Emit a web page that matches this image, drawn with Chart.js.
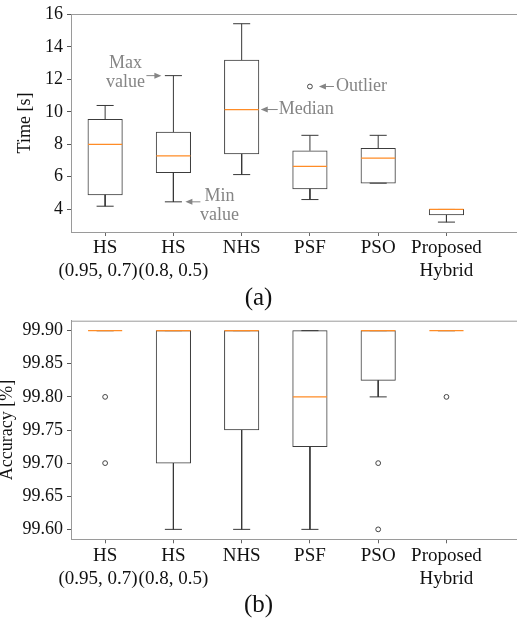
<!DOCTYPE html>
<html>
<head>
<meta charset="utf-8">
<script src="https://cdn.jsdelivr.net/npm/chart.js@4.4.1/dist/chart.umd.min.js"></script>
<style>
  html, body { margin:0; padding:0; background:#fff; }
  body { width:517px; height:623px; overflow:hidden; position:relative; font-family:'Liberation Serif'; }
  .wrap { position:absolute; left:0; }
  .cap { position:absolute; left:0; width:517px; text-align:center; font-family:'Liberation Serif'; font-size:25px; line-height:30px; color:#111; }
</style>
</head>
<body>
<div class="wrap" style="top:0;"><canvas id="c1" width="540" height="312" style="width:540px;height:312px;"></canvas></div>
<div class="wrap" style="top:312px;"><canvas id="c2" width="540" height="311" style="width:540px;height:311px;"></canvas></div>
<div class="cap" style="top:282px;">(a)</div>
<div class="cap" style="top:589px;">(b)</div>
<script>
// ---------- data ----------
const categories = [['HS','(0.95, 0.7)   '], ['HS','(0.8, 0.5)'], ['NHS'], ['PSF'], ['PSO'], ['Proposed','Hybrid']];

const timeMin = [4.18, 4.45, 6.13, 4.59, 5.60, 3.20];
const timeQ1  = [4.88, 6.25, 7.40, 5.25, 5.60, 3.64];
const timeMed = [7.99, 7.28, 10.14, 6.64, 7.15, 3.98];
const timeQ3  = [9.53, 8.75, 13.19, 7.60, 7.75, 3.98];
const timeMax = [10.39, 12.23, 15.43, 8.55, 8.55, 3.98];
const timeOutlierCat = [4];
const timeOutlierVal = [11.56];
const timeTicks = [4, 6, 8, 10, 12, 14, 16];

const accMin = [99.90, 99.60, 99.60, 99.60, 99.80, 99.90];
const accQ1  = [99.90, 99.70, 99.75, 99.725, 99.825, 99.90];
const accMed = [99.90, 99.90, 99.90, 99.80, 99.90, 99.90];
const accQ3  = [99.90, 99.90, 99.90, 99.90, 99.90, 99.90];
const accMax = [99.90, 99.90, 99.90, 99.90, 99.90, 99.90];
const accOutlierCat = [1, 1, 5, 5, 6];
const accOutlierVal = [99.80, 99.70, 99.70, 99.60, 99.80];
const accTicks = [99.60, 99.65, 99.70, 99.75, 99.80, 99.85, 99.90];

// ---------- style ----------
const FONT = "'Liberation Serif'";
const BOX_COLOR = '#3c3c3c';
const MED_COLOR = '#ff8c26';
const SPINE = '#9a9a9a';
const BOX_W = 0.5;   // in category units
const CAP_W = 0.25;

function buildDatasets(mn, q1, med, q3, mx, oc, ov) {
  const xs = categories.map((c, i) => i + 1);
  const boxes = xs.map((x, i) => ({x: x, y: [q1[i], q3[i]]}));
  const whiskers = [], caps = [], medians = [];
  xs.forEach((x, i) => {
    whiskers.push({x: x, y: q3[i]}, {x: x, y: mx[i]}, {x: x, y: null});
    whiskers.push({x: x, y: q1[i]}, {x: x, y: mn[i]}, {x: x, y: null});
    caps.push({x: x - CAP_W / 2, y: mx[i]}, {x: x + CAP_W / 2, y: mx[i]}, {x: x, y: null});
    caps.push({x: x - CAP_W / 2, y: mn[i]}, {x: x + CAP_W / 2, y: mn[i]}, {x: x, y: null});
    medians.push({x: x - BOX_W / 2, y: med[i]}, {x: x + BOX_W / 2, y: med[i]}, {x: x, y: null});
  });
  const outliers = oc.map((c, i) => ({x: c, y: ov[i]}));
  const lineCommon = {type: 'line', pointRadius: 0, borderWidth: 1, spanGaps: false, tension: 0, fill: false};
  return [
    {type: 'bar', data: boxes, backgroundColor: '#ffffff', borderColor: BOX_COLOR, borderWidth: 1,
     borderSkipped: false, barThickness: 34.5, grouped: false, order: 5},
    Object.assign({data: whiskers, borderColor: '#383838', order: 4}, lineCommon),
    Object.assign({data: caps, borderColor: '#383838', order: 3}, lineCommon),
    {type: 'scatter', data: outliers, pointRadius: 2.4, pointBorderWidth: 1, pointBackgroundColor: '#ffffff',
     pointBorderColor: '#444444', order: 2},
    Object.assign({data: medians, borderColor: MED_COLOR, order: 1}, lineCommon, {borderWidth: 1.3})
  ];
}

const framePlugin = {
  id: 'frame',
  afterDraw(chart) {
    const {ctx, chartArea} = chart;
    ctx.save();
    ctx.strokeStyle = SPINE;
    ctx.lineWidth = 1;
    ctx.beginPath();
    ctx.moveTo(chartArea.left, chartArea.top + 0.5);
    ctx.lineTo(chartArea.right, chartArea.top + 0.5);
    ctx.stroke();
    ctx.restore();
  }
};

function makeOptions(yMin, yMax, yTicks, yFmt, yTitle, titlePad, padTop, xHeight, tickPad) {
  return {
    responsive: false,
    animation: false,
    events: [],
    layout: {padding: {top: padTop, left: 0, right: 0, bottom: 0}},
    plugins: {legend: {display: false}, tooltip: {enabled: false}},
    scales: {
      x: {
        type: 'linear', min: 0.5, max: 0.5 + (540 - 71) / 69, offset: false,
        afterBuildTicks(s) { s.ticks = categories.map((c, i) => ({value: i + 1})); },
        afterFit(s) { s.height = xHeight; s.paddingLeft = 0; s.paddingRight = 0; },
        ticks: {
          autoSkip: false, maxRotation: 0, padding: tickPad, color: '#111',
          font: {family: FONT, size: 19, lineHeight: 1.18},
          callback(v) { return categories[Math.round(v) - 1] || ''; }
        },
        grid: {display: true, offset: false, drawOnChartArea: false, drawTicks: true, tickLength: 4, color: '#666', lineWidth: 1},
        border: {display: true, color: SPINE, width: 1}
      },
      y: {
        type: 'linear', min: yMin, max: yMax,
        afterBuildTicks(s) { s.ticks = yTicks.map(v => ({value: v})); },
        afterFit(s) { s.width = 71; s.paddingTop = 0; s.paddingBottom = 0; },
        ticks: {
          padding: 4, color: '#111',
          font: {family: FONT, size: 18, lineHeight: 1.2},
          callback(v) { return yFmt(v); }
        },
        title: {display: true, text: yTitle, color: '#111', font: {family: FONT, size: 18, lineHeight: 1}, padding: {top: titlePad, bottom: 0}},
        grid: {display: true, drawOnChartArea: false, drawTicks: true, tickLength: 4, color: '#555', lineWidth: 1},
        border: {display: true, color: SPINE, width: 1}
      }
    }
  };
}

const annotPlugin = {
  id: 'annot',
  afterDraw(chart) {
    const {ctx} = chart;
    const xs = chart.scales.x, ys = chart.scales.y;
    const grey = '#858585';
    function arrow(x0, y0, x1, y1) {
      ctx.save();
      ctx.strokeStyle = grey; ctx.fillStyle = grey; ctx.lineWidth = 1;
      const dir = Math.sign(x1 - x0);
      ctx.beginPath(); ctx.moveTo(x0, y0); ctx.lineTo(x1 - dir * 5, y1); ctx.stroke();
      ctx.beginPath(); ctx.moveTo(x1, y1); ctx.lineTo(x1 - dir * 7, y1 - 3); ctx.lineTo(x1 - dir * 7, y1 + 3); ctx.closePath(); ctx.fill();
      ctx.restore();
    }
    function text(t, x, y, align) {
      ctx.save();
      ctx.fillStyle = grey;
      ctx.font = "18px " + FONT;
      ctx.textAlign = align; ctx.textBaseline = 'middle';
      ctx.fillText(t, x, y);
      ctx.restore();
    }
    // Max value
    let px = xs.getPixelForValue(2), py = ys.getPixelForValue(timeMax[1]);
    arrow(px - 27, py, px - 12, py);
    text('Max', px - 48, py - 12, 'center');
    text('value', px - 48, py + 7, 'center');
    // Min value
    py = ys.getPixelForValue(timeMin[1]);
    arrow(px + 27, py, px + 12, py);
    text('Min', px + 46, py - 6, 'center');
    text('value', px + 46, py + 13, 'center');
    // Outlier
    px = xs.getPixelForValue(timeOutlierCat[0]); py = ys.getPixelForValue(timeOutlierVal[0]);
    arrow(px + 24, py, px + 9, py);
    text('Outlier', px + 26, py, 'left');
    // Median
    px = xs.getPixelForValue(3 + BOX_W / 2); py = ys.getPixelForValue(timeMed[2]);
    arrow(px + 19, py, px + 2, py);
    text('Median', px + 20, py, 'left');
  }
};

new Chart(document.getElementById('c1'), {
  type: 'bar',
  data: {datasets: buildDatasets(timeMin, timeQ1, timeMed, timeQ3, timeMax, timeOutlierCat, timeOutlierVal)},
  options: makeOptions(2.59, 16.03, timeTicks, v => String(v), 'Time [s]', 16, 14, 80, 1),
  plugins: [framePlugin, annotPlugin]
});

new Chart(document.getElementById('c2'), {
  type: 'bar',
  data: {datasets: buildDatasets(accMin, accQ1, accMed, accQ3, accMax, accOutlierCat, accOutlierVal)},
  options: makeOptions(99.585, 99.915, accTicks, v => v.toFixed(2), 'Accuracy [%]', -2, 8.7, 83.7, 2),
  plugins: [framePlugin]
});
</script>
</body>
</html>
